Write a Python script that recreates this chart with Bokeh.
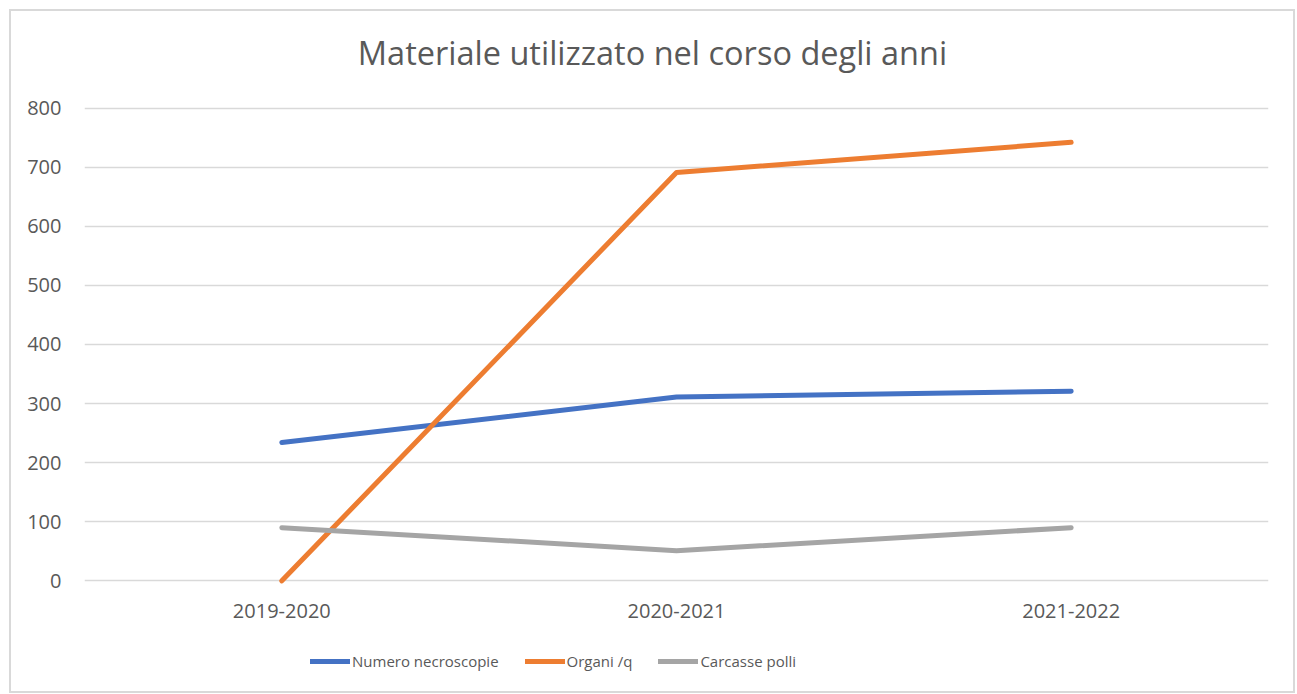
from bokeh.plotting import figure
from bokeh.models import Range1d, Legend, LegendItem, FixedTicker, Label
from bokeh.embed import file_html
from bokeh.resources import INLINE

categories = ["2019-2020", "2020-2021", "2021-2022"]
necroscopie = [234, 311, 321]
organi = [0, 691, 742]
carcasse = [90, 51, 90]
y_ticks = [0, 100, 200, 300, 400, 500, 600, 700, 800]
title_text = "Materiale utilizzato nel corso degli anni"

FONT = "Open Sans"
TXT = "#595959"

W, H = 1286, 684
CW, CH = W - 4, H - 4          # canvas inside 2px css border
LEFT, RIGHT = 73, 29
TOP800, ZERO = 96, 566         # canvas rows of y=800 and y=0
FT, FB = 2, CH - 2             # frame top / bottom rows
ppu = (ZERO - TOP800) / 800
y_end = 800 + (TOP800 - FT) / ppu
y_start = -(FB - ZERO) / ppu

p = figure(x_range=categories, y_range=Range1d(y_start, y_end),
           width=W, height=H, output_backend="svg", toolbar_location=None,
           min_border_left=LEFT, min_border_right=RIGHT, min_border_top=FT, min_border_bottom=2)
p.styles = {"border": "2px solid #d9d9d9", "box-sizing": "border-box", "margin": "9px 0 0 9px"}
p.outline_line_color = None
p.background_fill_color = "white"
p.border_fill_color = "white"

p.yaxis.ticker = FixedTicker(ticks=y_ticks)
for ax in (p.xaxis, p.yaxis):
    ax.axis_line_color = None
    ax.major_tick_line_color = None
    ax.minor_tick_line_color = None
    ax.major_tick_out = 0
    ax.major_tick_in = 0
    ax.major_label_text_font = FONT
    ax.major_label_text_font_size = "20px"
    ax.major_label_text_color = TXT
p.yaxis.major_label_standoff = 23
p.xaxis.major_label_standoff = 23
p.xaxis.fixed_location = 0

p.xgrid.grid_line_color = None
p.ygrid.grid_line_color = "#d9d9d9"
p.ygrid.grid_line_width = 1.5

r1 = p.line(categories, necroscopie, line_color="#4472C4", line_width=5, line_cap="round", line_join="round")
r2 = p.line(categories, organi, line_color="#ED7D31", line_width=5, line_cap="round", line_join="round")
r3 = p.line(categories, carcasse, line_color="#A5A5A5", line_width=5, line_cap="round", line_join="round")

# chart title, centred on the whole canvas (canvas row 41)
frame_center_x = LEFT + (CW - LEFT - RIGHT) / 2
title = Label(x=1.5, y=800 + (TOP800 - 41) / ppu, x_offset=CW / 2 - frame_center_x - 2,
              text=title_text, text_align="center", text_baseline="middle",
              text_font=FONT, text_font_size="32.5px", text_color=TXT)
p.add_layout(title)

legend = Legend(items=[LegendItem(label="Numero necroscopie", renderers=[r1]),
                       LegendItem(label="Organi /q", renderers=[r2]),
                       LegendItem(label="Carcasse polli", renderers=[r3])],
                orientation="horizontal", location=(226, 22),
                glyph_width=40, glyph_height=20, label_standoff=2, spacing=26,
                padding=0, margin=0, border_line_color=None, background_fill_alpha=0,
                label_text_font=FONT, label_text_font_size="15px", label_text_color=TXT)
p.add_layout(legend, "center")

open("out.html", "w").write(file_html(p, INLINE))
